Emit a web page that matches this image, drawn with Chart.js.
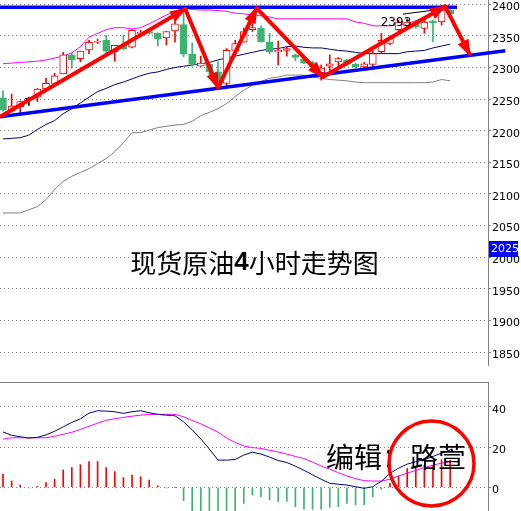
<!DOCTYPE html>
<html>
<head>
<meta charset="utf-8">
<script src="https://cdn.jsdelivr.net/npm/chart.js@4.4.1/dist/chart.umd.min.js"></script>
<style>
  html, body { margin: 0; padding: 0; background: #fff; }
  #wrap { position: relative; width: 521px; height: 511px; overflow: hidden; background: #fff; }
  #price { position: absolute; left: 0; top: 0; }
  #macd { position: absolute; left: 0; top: 382px; }
</style>
</head>
<body>
<div id="wrap">
  <canvas id="price" width="521" height="366"></canvas>
  <canvas id="macd" width="521" height="129"></canvas>
</div>
<script>
// 4h candles, oldest first
const opens = [2252, 2231, 2238, 2250, 2253, 2266, 2275, 2290, 2320, 2314,
  2328, 2340, 2343, 2325, 2335, 2332, 2354, 2357, 2354, 2347,
  2358, 2368, 2321, 2302, 2305, 2293, 2275, 2326, 2340, 2360,
  2362, 2340, 2325, 2327, 2320, 2313, 2308, 2292, 2302, 2309,
  2312, 2305, 2301, 2305, 2325, 2338, 2360, 2366, 2370, 2362,
  2374, 2372, 2391];
const highs = [2263, 2258, 2247, 2253, 2267, 2283, 2291, 2324, 2323, 2326,
  2343, 2345, 2351, 2335, 2351, 2360, 2359, 2359, 2355, 2357,
  2378, 2386, 2339, 2318, 2308, 2309, 2330, 2343, 2362, 2370,
  2366, 2354, 2342, 2332, 2321, 2315, 2310, 2304, 2320, 2316,
  2313, 2307, 2308, 2327, 2354, 2350, 2375, 2377, 2374, 2375,
  2375, 2398, 2396];
const lows = [2231, 2230, 2227, 2240, 2246, 2266, 2275, 2290, 2299, 2309,
  2322, 2338, 2319, 2310, 2328, 2331, 2353, 2353, 2334, 2336,
  2340, 2317, 2302, 2302, 2288, 2272, 2270, 2325, 2340, 2357,
  2340, 2322, 2304, 2318, 2311, 2306, 2293, 2280, 2293, 2301,
  2303, 2300, 2297, 2298, 2322, 2336, 2357, 2362, 2362, 2354,
  2341, 2367, 2384];
const closes = [2233, 2239, 2246, 2250, 2266, 2275, 2287, 2320, 2312, 2326,
  2340, 2341, 2326, 2335, 2330, 2359, 2356, 2354, 2345, 2357,
  2369, 2321, 2305, 2307, 2293, 2277, 2327, 2338, 2357, 2363,
  2341, 2325, 2327, 2330, 2316, 2307, 2301, 2299, 2306, 2314,
  2305, 2301, 2306, 2322, 2343, 2346, 2372, 2372, 2364, 2372,
  2371, 2391, 2385];

// Bollinger bands
const upperBand = [2306, 2307, 2308, 2309, 2310, 2312, 2315, 2318, 2323, 2333,
  2348, 2354, 2360, 2363, 2363, 2361, 2363, 2369, 2376, 2383,
  2389, 2393, 2392, 2391, 2391, 2390, 2389, 2386, 2385, 2383,
  2382, 2380, 2377, 2377, 2377, 2377, 2377, 2377, 2377, 2377,
  2377, 2372, 2370, 2366, 2366, 2366, 2367, 2370, 2374, 2380,
  2386, 2393, 2400];
const middleBand = [2187, 2188, 2189, 2193, 2202, 2210, 2216, 2227, 2235, 2244,
  2253, 2262, 2267, 2273, 2277, 2282, 2287, 2291, 2293, 2297,
  2300, 2302, 2304, 2306, 2308, 2312, 2315, 2318, 2321, 2324,
  2327, 2329, 2330, 2333, 2334, 2332, 2331, 2331, 2329, 2327,
  2326, 2324, 2322, 2322, 2322, 2322, 2322, 2325, 2326, 2327,
  2331, 2334, 2337];
const lowerBand = [2070, 2070, 2070, 2075, 2080, 2091, 2107, 2120, 2128, 2134,
  2140, 2148, 2156, 2167, 2181, 2197, 2197, 2201, 2205, 2207,
  2209, 2210, 2215, 2224, 2229, 2235, 2243, 2254, 2264, 2272,
  2278, 2283, 2285, 2288, 2288, 2288, 2285, 2283, 2281, 2280,
  2279, 2277, 2276, 2276, 2276, 2276, 2276, 2276, 2276, 2276,
  2277, 2281, 2279];

// MACD sub window
const macdMain = [27.5, 25.8, 25.1, 24.4, 24.8, 26, 27.8, 30, 32.2, 34,
  36.8, 38, 37.8, 37.5, 36.7, 37.5, 38, 37, 36.2, 35.8,
  35.5, 32.5, 28.5, 24, 19, 13.5, 13.5, 13.8, 16, 17.4,
  16.5, 15, 13.3, 12.3, 10.5, 8.4, 6.2, 4, 2, 1.5,
  1.1, 0.3, -0.5, 0.3, 3, 6.9, 9.5, 11.5, 12.7, 13.7,
  15.3, 17, 18.5];
const macdSignal = [23.9, 24.6, 24.6, 24.6, 24.6, 24.6, 25.3, 26.3, 27.3, 28.7,
  30.3, 31.8, 33.3, 34, 34.7, 35.3, 35.8, 36.2, 36.2, 36.2,
  36.2, 35, 33.2, 31.5, 29.5, 27.4, 24.5, 22.2, 20.5, 19.7,
  19.3, 18.4, 17.5, 16.5, 15.3, 14.3, 12.5, 10.6, 9, 7.3,
  5.6, 4.3, 3.3, 3.1, 3.1, 4, 5.6, 7, 8.4, 9.8,
  11, 12, 12.7];
const macdHist = [6.6, 3.1, 1.1, -0.3, 0.5, 2.3, 4.1, 8.6, 9.8, 11.2,
  12.8, 12.8, 9.8, 7.8, 4.8, 6.1, 5.3, 3.6, 0.8, -0.3,
  0, -6.6, -12.5, -15, -21, -28, -22, -17, -8, -3.8,
  -4.7, -6.3, -7.1, -7, -9.6, -10.9, -10.9, -10.9, -9.9, -9.6,
  -8, -8.7, -8.7, -4.7, -1, 2, 5.6, 9.3, 10.1, 10.9,
  10.9, 13.7, 13.4];

const priceTicks = [1850, 1900, 1950, 2000, 2050, 2100, 2150, 2200, 2250, 2300, 2350, 2400];
const macdTicks = [0, 20, 40];

// hand drawn objects, in (bar index, price)
const resistanceX = [-0.35, 52.8];
const resistanceY = [2395.5, 2395.5];
const supportX = [-0.35, 58.4];
const supportY = [2222, 2326.6];
const arrowX = [-0.35, 21.2, 25, 29.5, 37.2, 51.4, 54.3];
const arrowY = [2222, 2392.5, 2268, 2394, 2285, 2397, 2320];
const markX = [46.5, 50.8];
const markY = [2384.5, 2392];

const titleParts = ['现货原油', '4', '小时走势图'];
const editorText = '编辑：路萱';
const highLabel = '2393';
const priceTag = 2025;

const RED = '#ff0000';
const GREEN = '#3cb371';
const GRAY = '#808080';

const candleIndex = opens.map((_, i) => i);
const candleColor = opens.map((o, i) => {
  if (closes[i] > o) return RED;
  if (closes[i] < o) return GREEN;
  return '#000000';
});
const bodyFill = opens.map((o, i) => (closes[i] > o ? '#ffffff' : candleColor[i]));

const toPoints = (arr) => arr.map((v, i) => ({ x: i, y: v }));
const pairs = (xs, ys) => xs.map((x, i) => ({ x, y: ys[i] }));

Chart.defaults.font.family = '"DejaVu Sans", sans-serif';
Chart.defaults.elements.point.radius = 0;

const rightAxis = (min, max, ticks) => ({
  position: 'right',
  min,
  max,
  afterBuildTicks: (axis) => { axis.ticks = ticks.map((v) => ({ value: v })); },
  afterFit: (axis) => {
    axis.width = 33;
    axis.paddingTop = 0;
    axis.paddingBottom = 0;
  },
  grid: {
    color: GRAY,
    tickColor: GRAY,
    tickLength: 3,
    tickBorderDash: [],
  },
  border: { display: true, color: GRAY, width: 1, dash: [1, 3] },
  ticks: {
    color: '#000000',
    padding: 1,
    labelOffset: 3,
    font: { size: 11 },
    callback: (v) => String(v),
  },
});

const xAxis = { type: 'linear', min: -0.35, max: 56.4, offset: false, display: false };

const priceOverlay = {
  id: 'priceOverlay',
  afterDatasetsDraw(chart) {
    const { ctx, scales: { x, y } } = chart;
    ctx.save();
    ctx.fillStyle = RED;
    for (let i = 1; i < arrowX.length; i += 1) {
      const x0 = x.getPixelForValue(arrowX[i - 1]);
      const y0 = y.getPixelForValue(arrowY[i - 1]);
      const x1 = x.getPixelForValue(arrowX[i]);
      const y1 = y.getPixelForValue(arrowY[i]);
      const a = Math.atan2(y1 - y0, x1 - x0);
      const len = 15;
      const half = 6;
      const bx = x1 - len * Math.cos(a);
      const by = y1 - len * Math.sin(a);
      ctx.beginPath();
      ctx.moveTo(x1 + 2 * Math.cos(a), y1 + 2 * Math.sin(a));
      ctx.lineTo(bx + half * Math.sin(a), by - half * Math.cos(a));
      ctx.lineTo(bx - half * Math.sin(a), by + half * Math.cos(a));
      ctx.closePath();
      ctx.fill();
    }
    ctx.restore();
  },
  afterDraw(chart) {
    const { ctx, scales: { y }, chartArea } = chart;
    ctx.save();
    // title
    const fonts = ['26px "Noto Sans CJK SC"', 'bold 26px "Liberation Sans"', '26px "Noto Sans CJK SC"'];
    let total = 0;
    titleParts.forEach((t, i) => { ctx.font = fonts[i]; total += ctx.measureText(t).width; });
    let tx = 254.5 - total / 2;
    ctx.fillStyle = '#000000';
    ctx.textBaseline = 'middle';
    ctx.textAlign = 'left';
    titleParts.forEach((t, i) => {
      ctx.font = fonts[i];
      ctx.fillText(t, tx, 263);
      tx += ctx.measureText(t).width;
    });
    // high label
    ctx.font = '12px "DejaVu Sans"';
    ctx.textAlign = 'center';
    ctx.fillText(highLabel, 396, 22.5);
    // current price tag on the axis
    const ty = Math.round(y.getPixelForValue(priceTag));
    ctx.fillStyle = '#0000ff';
    ctx.fillRect(chartArea.right + 1, ty, 29, 16);
    ctx.fillStyle = '#ffffff';
    ctx.font = '11px "DejaVu Sans"';
    ctx.textAlign = 'left';
    ctx.fillText(String(priceTag), chartArea.right + 3, ty + 8.5);
    ctx.restore();
  },
};

new Chart(document.getElementById('price'), {
  data: {
    datasets: [
      { type: 'line', data: toPoints(upperBand), borderColor: '#ff00ff', borderWidth: 1, order: 10 },
      { type: 'line', data: toPoints(middleBand), borderColor: '#000080', borderWidth: 1, order: 10 },
      { type: 'line', data: toPoints(lowerBand), borderColor: GRAY, borderWidth: 1, order: 10 },
      {
        type: 'bar',
        data: candleIndex.map((i) => ({ x: i, y: [lows[i], highs[i]] })),
        backgroundColor: candleColor,
        barThickness: 1,
        grouped: false,
        order: 9,
      },
      {
        type: 'bar',
        data: candleIndex.map((i) => ({ x: i, y: [opens[i], closes[i]] })),
        backgroundColor: bodyFill,
        borderColor: candleColor,
        borderWidth: 1,
        borderSkipped: false,
        barThickness: 7,
        minBarLength: 1,
        grouped: false,
        order: 8,
      },
      { type: 'line', data: pairs(markX, markY), borderColor: '#000000', borderWidth: 1, order: 7 },
      { type: 'line', data: pairs(resistanceX, resistanceY), borderColor: '#0000ff', borderWidth: 3.5, order: 6 },
      { type: 'line', data: pairs(supportX, supportY), borderColor: '#0000ff', borderWidth: 3.5, order: 6, clip: false },
      { type: 'line', data: pairs(arrowX, arrowY), borderColor: RED, borderWidth: 4, borderJoinStyle: 'round', order: 5 },
    ],
  },
  options: {
    responsive: false,
    animation: false,
    events: [],
    layout: { padding: 0 },
    plugins: { legend: { display: false }, tooltip: { enabled: false } },
    scales: {
      x: xAxis,
      y: rightAxis(1827.9, 2406.8, priceTicks),
    },
  },
  plugins: [priceOverlay],
});

const macdOverlay = {
  id: 'macdOverlay',
  beforeDatasetsDraw(chart) {
    const { ctx, chartArea } = chart;
    ctx.save();
    ctx.strokeStyle = GRAY;
    ctx.lineWidth = 1;
    ctx.beginPath();
    ctx.moveTo(chartArea.left, chartArea.top + 0.5);
    ctx.lineTo(chartArea.right, chartArea.top + 0.5);
    ctx.stroke();
    ctx.restore();
  },
  afterDraw(chart) {
    const { ctx } = chart;
    ctx.save();
    ctx.fillStyle = '#000000';
    ctx.font = '28px "Noto Sans CJK SC"';
    ctx.textBaseline = 'middle';
    ctx.textAlign = 'left';
    ctx.fillText(editorText, 326, 75);
    ctx.strokeStyle = RED;
    ctx.lineWidth = 3.5;
    ctx.beginPath();
    ctx.arc(431.5, 81.5, 42.5, 0, Math.PI * 2);
    ctx.stroke();
    ctx.restore();
  },
};

new Chart(document.getElementById('macd'), {
  data: {
    datasets: [
      {
        type: 'bar',
        data: toPoints(macdHist),
        backgroundColor: macdHist.map((v) => (v >= 0 ? RED : GREEN)),
        barThickness: 1,
        grouped: false,
        order: 3,
      },
      { type: 'line', data: toPoints(macdSignal), borderColor: '#ff00ff', borderWidth: 1, order: 2 },
      { type: 'line', data: toPoints(macdMain), borderColor: '#000080', borderWidth: 1, order: 1 },
    ],
  },
  options: {
    responsive: false,
    animation: false,
    events: [],
    layout: { padding: 0 },
    plugins: { legend: { display: false }, tooltip: { enabled: false } },
    scales: {
      x: xAxis,
      y: rightAxis(-11.76, 52.26, macdTicks),
    },
  },
  plugins: [macdOverlay],
});
</script>
</body>
</html>
